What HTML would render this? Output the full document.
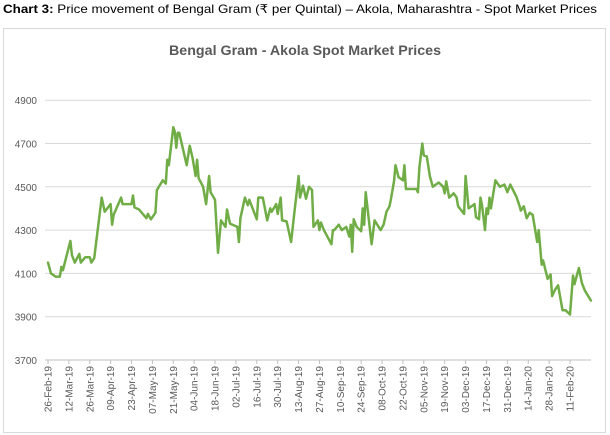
<!DOCTYPE html>
<html><head><meta charset="utf-8"><style>
body{margin:0;background:#fff;width:610px;height:435px;overflow:hidden}
svg{display:block;font-family:"Liberation Sans",sans-serif}
</style></head><body>
<svg id="chart" width="610" height="435">
<text x="3" y="13" font-size="12" fill="#000" textLength="594" lengthAdjust="spacingAndGlyphs"><tspan font-weight="bold">Chart 3:</tspan> Price movement of Bengal Gram (₹ per Quintal) – Akola, Maharashtra - Spot Market Prices</text>
<rect x="3.5" y="28.5" width="602" height="404" fill="#fff" stroke="#d9d9d9"/>
<text x="305" y="55" font-size="14" font-weight="bold" fill="#595959" text-anchor="middle" textLength="272" lengthAdjust="spacingAndGlyphs">Bengal Gram - Akola Spot Market Prices</text>
<g id="grid"></g><g id="xaxis"></g><g id="yaxis"></g><g id="series"></g>
</svg>
<script>
const days=[0,2,5,8,9,10,15,16,18,21,22,25,28,29,31,36,38,42,43,44,49,50,56,57,58,61,66,67,69,72,73,77,79,80,81,84,85,86,87,88,93,95,97,99,100,101,104,106,108,109,112,114,116,119,120,122,127,128,129,132,134,135,140,141,144,147,149,150,153,154,156,157,160,163,165,168,169,171,173,175,177,178,181,182,183,185,190,191,192,195,197,200,202,203,204,205,207,210,211,212,213,217,219,223,225,227,229,230,232,233,235,238,239,240,247,248,249,251,252,254,256,258,262,265,266,267,269,272,274,275,279,280,282,286,287,289,290,291,293,294,295,296,297,300,303,306,308,310,314,316,317,319,321,323,325,328,329,331,332,335,337,338,340,342,345,347,350,352,353,356,358,360,364];
const prices=[4150,4100,4085,4085,4130,4115,4250,4185,4150,4190,4150,4175,4175,4150,4170,4450,4385,4420,4325,4370,4450,4420,4420,4460,4405,4395,4355,4375,4350,4380,4485,4530,4515,4625,4600,4775,4755,4680,4750,4750,4600,4690,4630,4550,4625,4540,4500,4420,4550,4475,4440,4195,4345,4315,4395,4330,4315,4245,4355,4450,4415,4440,4350,4450,4450,4345,4400,4385,4420,4375,4450,4345,4340,4245,4370,4550,4450,4505,4445,4500,4485,4315,4345,4300,4335,4300,4235,4300,4300,4325,4300,4315,4270,4325,4200,4350,4315,4295,4400,4325,4475,4235,4345,4300,4325,4385,4410,4445,4525,4600,4545,4530,4600,4490,4490,4475,4590,4700,4645,4640,4550,4500,4520,4500,4470,4525,4450,4470,4450,4410,4375,4550,4400,4420,4360,4350,4450,4415,4300,4400,4375,4450,4400,4530,4500,4510,4475,4510,4455,4415,4390,4410,4355,4380,4370,4245,4300,4140,4160,4075,4095,3995,4025,4045,3930,3930,3910,4090,4050,4125,4055,4020,3975];
const yTicks=[3700,3900,4100,4300,4500,4700,4900];
const xLabels=["26-Feb-19","12-Mar-19","26-Mar-19","09-Apr-19","23-Apr-19","07-May-19","21-May-19","04-Jun-19","18-Jun-19","02-Jul-19","16-Jul-19","30-Jul-19","13-Aug-19","27-Aug-19","10-Sep-19","24-Sep-19","08-Oct-19","22-Oct-19","05-Nov-19","19-Nov-19","03-Dec-19","17-Dec-19","31-Dec-19","14-Jan-20","28-Jan-20","11-Feb-20"];
const NS="http://www.w3.org/2000/svg";
const X0=48,PXD=1.4914,Y0=360,PXV=43.3/200;
function xs(d){return X0+d*PXD;}
function ys(v){return Y0-(v-3700)*PXV;}
function mk(t,a,p){const e=document.createElementNS(NS,t);for(const k in a)e.setAttribute(k,a[k]);p.appendChild(e);return e;}
const grid=document.getElementById('grid'),ya=document.getElementById('yaxis'),xa=document.getElementById('xaxis'),se=document.getElementById('series');
yTicks.forEach(v=>{
 const l=mk('line',{x1:45,x2:591,y1:ys(v),y2:ys(v),stroke:v===3700?'#bfbfbf':'#d9d9d9','stroke-width':1},grid);
 
 
 const t=mk('text',{x:37,y:ys(v)+4,'font-size':10,fill:'#595959','text-anchor':'end'},ya);
 t.textContent=v;
 
 
});
xLabels.forEach((s,i)=>{
 const x=xs(i*14);
 const tk=mk('line',{x1:x,x2:x,y1:360,y2:364,stroke:'#bfbfbf'},xa);
 
 
 const t=mk('text',{x:0,y:0,'font-size':10,fill:'#595959','text-anchor':'end',transform:`translate(${x+3.5},366) rotate(-90)`},xa);
 t.textContent=s;
 
 
});
const pts=days.map((d,i)=>xs(d).toFixed(1)+','+ys(prices[i]).toFixed(1)).join(' ');
const pl=mk('polyline',{points:pts,fill:'none',stroke:'#70ad47','stroke-width':2.5,'stroke-linejoin':'round','stroke-linecap':'round'},se);


</script>
</body></html>
